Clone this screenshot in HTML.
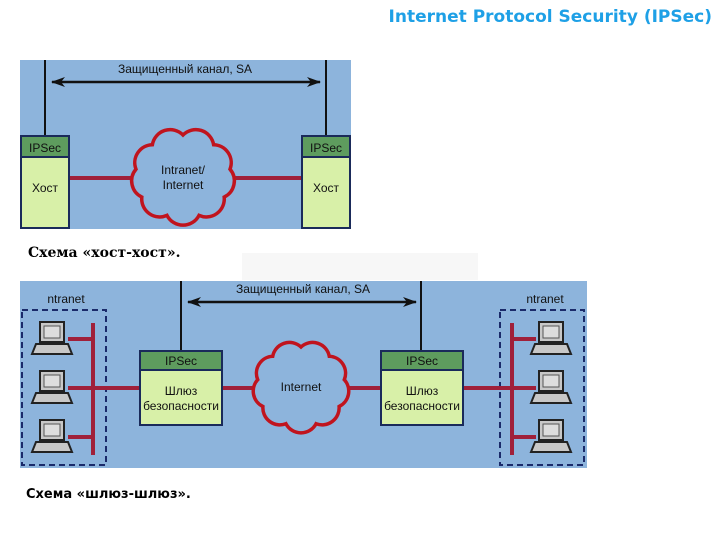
<!DOCTYPE html>
<html><head><meta charset="utf-8"><style>
body{margin:0;width:720px;height:540px;background:#fff;overflow:hidden;position:relative;font-family:"Liberation Sans",sans-serif}
.t{position:absolute;right:8px;top:7px;color:#1ea0e6;font-weight:bold;font-size:17px;font-family:"DejaVu Sans",sans-serif}
.c1{position:absolute;left:28px;top:245px;font-family:"DejaVu Serif",serif;font-weight:bold;font-size:14px}
.c2{position:absolute;left:26px;top:487px;font-family:"DejaVu Sans",sans-serif;font-weight:bold;font-size:13px}
</style></head><body>
<div class="t">Internet Protocol Security (IPSec)</div>
<svg width="720" height="540" style="position:absolute;left:0;top:0">
<defs>
<g id="pc">
<rect x="8" y="0" width="24" height="20" fill="#c8c8c8" stroke="#222" stroke-width="2"/>
<rect x="12" y="4" width="16" height="12" fill="#ddd" stroke="#555" stroke-width="1"/>
<path d="M4 22 H36 L40 32 H0 Z" fill="#c8c8c8" stroke="#222" stroke-width="2"/>
</g>
<marker id="ar" markerWidth="14" markerHeight="10" refX="13" refY="5" orient="auto-start-reverse" markerUnits="userSpaceOnUse"><path d="M0 0 L14 5 L0 10 L4 5Z" fill="#111"/></marker>
</defs>
<rect x="242" y="253" width="236" height="27" fill="#f7f7f7"/>
<rect x="20" y="60" width="331" height="169" fill="#8db4dc"/>
<line x1="45" y1="60" x2="45" y2="136" stroke="#111" stroke-width="2"/>
<line x1="326" y1="60" x2="326" y2="136" stroke="#111" stroke-width="2"/>
<line x1="52" y1="82" x2="320" y2="82" stroke="#111" stroke-width="2.5" marker-start="url(#ar)" marker-end="url(#ar)"/>
<text x="185" y="73" font-size="12" text-anchor="middle" fill="#111">Защищенный канал, SA</text>
<line x1="69" y1="178" x2="302" y2="178" stroke="#a0203a" stroke-width="4"/>
<path d="M183 135 A18 18 0 0 1 213.6 144.7 A18 18 0 0 1 230 169.2 A18 18 0 0 1 224.2 197.1 A18 18 0 0 1 199 215.4 A18 18 0 0 1 167 215.4 A18 18 0 0 1 141.8 197.1 A18 18 0 0 1 136 169.2 A18 18 0 0 1 152.4 144.7 A18 18 0 0 1 183 135Z" fill="#8db4dc" stroke="#c0141e" stroke-width="3.5"/>
<text x="183" y="174" font-size="12" text-anchor="middle" fill="#111">Intranet/</text>
<text x="183" y="189" font-size="12" text-anchor="middle" fill="#111">Internet</text>
<g stroke="#1a2a5a" stroke-width="2">
<rect x="21" y="136" width="48" height="92" fill="#d8f0a8"/>
<rect x="21" y="136" width="48" height="21" fill="#5e9c5e"/>
<rect x="302" y="136" width="48" height="92" fill="#d8f0a8"/>
<rect x="302" y="136" width="48" height="21" fill="#5e9c5e"/>
</g>
<g font-size="12" text-anchor="middle" fill="#111">
<text x="45" y="152">IPSec</text><text x="45" y="192">Хост</text>
<text x="326" y="152">IPSec</text><text x="326" y="192">Хост</text>
</g>
<rect x="20" y="281" width="567" height="187" fill="#8db4dc"/>
<line x1="181" y1="281" x2="181" y2="351" stroke="#111" stroke-width="2"/>
<line x1="421" y1="281" x2="421" y2="351" stroke="#111" stroke-width="2"/>
<line x1="188" y1="302" x2="416" y2="302" stroke="#111" stroke-width="2.5" marker-start="url(#ar)" marker-end="url(#ar)"/>
<text x="303" y="293" font-size="12" text-anchor="middle" fill="#111">Защищенный канал, SA</text>
<rect x="22" y="310" width="84" height="155" fill="none" stroke="#1a2a6a" stroke-width="2" stroke-dasharray="6,4"/>
<rect x="500" y="310" width="84" height="155" fill="none" stroke="#1a2a6a" stroke-width="2" stroke-dasharray="6,4"/>
<text x="66" y="303" font-size="12" text-anchor="middle" fill="#111">ntranet</text>
<text x="545" y="303" font-size="12" text-anchor="middle" fill="#111">ntranet</text>
<g stroke="#a0203a" stroke-width="4">
<line x1="93" y1="323" x2="93" y2="455"/>
<line x1="512" y1="323" x2="512" y2="455"/>
<line x1="68" y1="339" x2="93" y2="339"/><line x1="68" y1="388" x2="93" y2="388"/><line x1="68" y1="437" x2="93" y2="437"/>
<line x1="512" y1="339" x2="536" y2="339"/><line x1="512" y1="437" x2="536" y2="437"/>
<line x1="68" y1="388" x2="536" y2="388"/>
</g>
<path d="M301 347 A17 17 0 0 1 329.3 356.3 A17 17 0 0 1 344.3 379.7 A17 17 0 0 1 339.1 406.5 A17 17 0 0 1 316.1 423.7 A17 17 0 0 1 285.9 423.7 A17 17 0 0 1 262.9 406.5 A17 17 0 0 1 257.7 379.7 A17 17 0 0 1 272.7 356.3 A17 17 0 0 1 301 347Z" fill="#8db4dc" stroke="#c0141e" stroke-width="3.5"/>
<text x="301" y="391" font-size="12" text-anchor="middle" fill="#111">Internet</text>
<use href="#pc" x="32" y="322"/><use href="#pc" x="32" y="371"/><use href="#pc" x="32" y="420"/>
<use href="#pc" x="531" y="322"/><use href="#pc" x="531" y="371"/><use href="#pc" x="531" y="420"/>
<g stroke="#1a2a5a" stroke-width="2">
<rect x="140" y="351" width="82" height="74" fill="#d8f0a8"/>
<rect x="140" y="351" width="82" height="19" fill="#5e9c5e"/>
<rect x="381" y="351" width="82" height="74" fill="#d8f0a8"/>
<rect x="381" y="351" width="82" height="19" fill="#5e9c5e"/>
</g>
<g font-size="12" text-anchor="middle" fill="#111">
<text x="181" y="365">IPSec</text><text x="181" y="395">Шлюз</text><text x="181" y="410">безопасности</text>
<text x="422" y="365">IPSec</text><text x="422" y="395">Шлюз</text><text x="422" y="410">безопасности</text>
</g>
</svg>
<div class="c1">Схема «хост-хост».</div>
<div class="c2">Схема «шлюз-шлюз».</div>
</body></html>
